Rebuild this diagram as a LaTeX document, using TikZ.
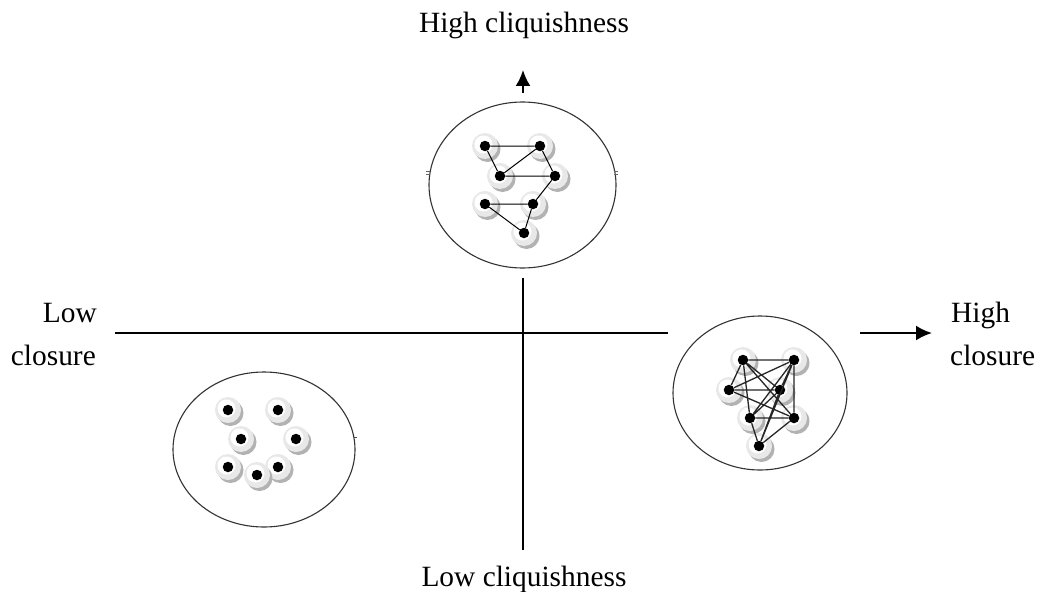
\documentclass[tikz,border=0pt]{standalone}
\usepackage{fontspec}
\setmainfont{Liberation Serif}
\usetikzlibrary{arrows.meta}
\newcommand\hnode[3]{%
  \fill[black!30] (#2+2.5,#3-3) circle[radius=13pt];
  \fill[black!9] (#2,#3) circle[radius=13pt];
  \fill[white] (#2-1.5,#3+1.5) circle[radius=9pt];
  \node[dotn] (#1) at (#2,#3) {};
}
\begin{document}
\begin{tikzpicture}[x=1pt,y=1pt,
  lab/.style={font=\fontsize{29.4}{35}\selectfont, inner sep=0pt},
  axis/.style={line width=2pt, black},
  ring/.style={line width=1.1pt, black!80},
  dotn/.style={circle, fill=black, inner sep=0pt, minimum size=10.5pt},
  edge/.style={line width=1pt, black},
  edgeb/.style={line width=1.3pt, black!85},
  tip/.style={-{Latex[length=16pt,width=15pt]}, line width=2.2pt}
]
\useasboundingbox (0,0) rectangle (1040,-591);
\fill[white] (0,0) rectangle (1040,-591);

% labels
\node[lab, anchor=base] (tq) at (524,-33) {High cliquishness};
\node[lab, anchor=base] (bq) at (524,-586) {Low cliquishness};
\node[lab, anchor=base east] (lc1) at (97,-322) {Low};
\node[lab, anchor=base east] (lc2) at (96,-365) {closure};
\node[lab, anchor=base west] (hc1) at (951,-322) {High};
\node[lab, anchor=base west] (hc2) at (950,-365) {closure};

% axes
\coordinate (hL) at (115,-333);
\coordinate (hR) at (668,-333);
\coordinate (vT) at (523,-278);
\coordinate (vB) at (523,-550);
\draw[axis] (hL) -- (hR);
\draw[axis] (vT) -- (vB);
\coordinate (ua) at (523,-93);
\coordinate (ub) at (523,-70);
\draw[tip] (ua) -- (ub);
\coordinate (ra) at (860,-333);
\coordinate (rb) at (932,-333);
\draw[tip] (ra) -- (rb);

% rings
\draw[ring] (522.5,-185) ellipse[x radius=93.5pt, y radius=83pt];
\draw[ring] (760,-393) ellipse[x radius=87pt, y radius=77pt];
\draw[ring] (264,-449.5) ellipse[x radius=91pt, y radius=77.5pt];
% small tick marks
\draw[line width=0.6pt, black!60] (426,-171.5) -- (430,-171.5) (426,-174.5) -- (430,-174.5);
\draw[line width=0.6pt, black!60] (614,-171.5) -- (618,-171.5) (614,-174.5) -- (618,-174.5);
\draw[line width=0.8pt, black!70] (354,-437) -- (357,-437);

% top cluster
\hnode{tA}{485}{-146}
\hnode{tB}{540}{-146}
\hnode{tC}{500}{-176}
\hnode{tD}{555}{-176}
\hnode{tE}{485}{-204}
\hnode{tF}{533}{-204}
\hnode{tG}{524}{-233}
\draw[edge] (tA)--(tB) (tA)--(tC) (tC)--(tB) (tB)--(tD) (tC)--(tD)
  (tD)--(tF) (tE)--(tF) (tE)--(tG) (tF)--(tG);

% right cluster
\hnode{ra}{743}{-360}
\hnode{rb}{794}{-360}
\hnode{rc}{729}{-390}
\hnode{rd}{780}{-390}
\hnode{re}{750}{-418}
\hnode{rf}{794}{-418}
\hnode{rg}{759}{-446}
\draw[edgeb] (ra)--(rb) (ra)--(rc) (ra)--(re) (ra)--(rf) (ra)--(rd)
  (rb)--(rc) (rb)--(rd) (rb)--(rf) (rb)--(re) (rb)--(rg)
  (rc)--(rd) (rc)--(rf) (rd)--(re) (re)--(rf) (re)--(rg) (rf)--(rg) (rd)--(rg);

% bottom-left cluster
\hnode{l1}{228}{-410}
\hnode{l2}{278}{-410}
\hnode{l3}{241}{-439}
\hnode{l4}{296}{-439}
\hnode{l5}{228}{-467}
\hnode{l7}{278}{-467}
\hnode{l6}{257}{-475}
\end{tikzpicture}
\end{document}
